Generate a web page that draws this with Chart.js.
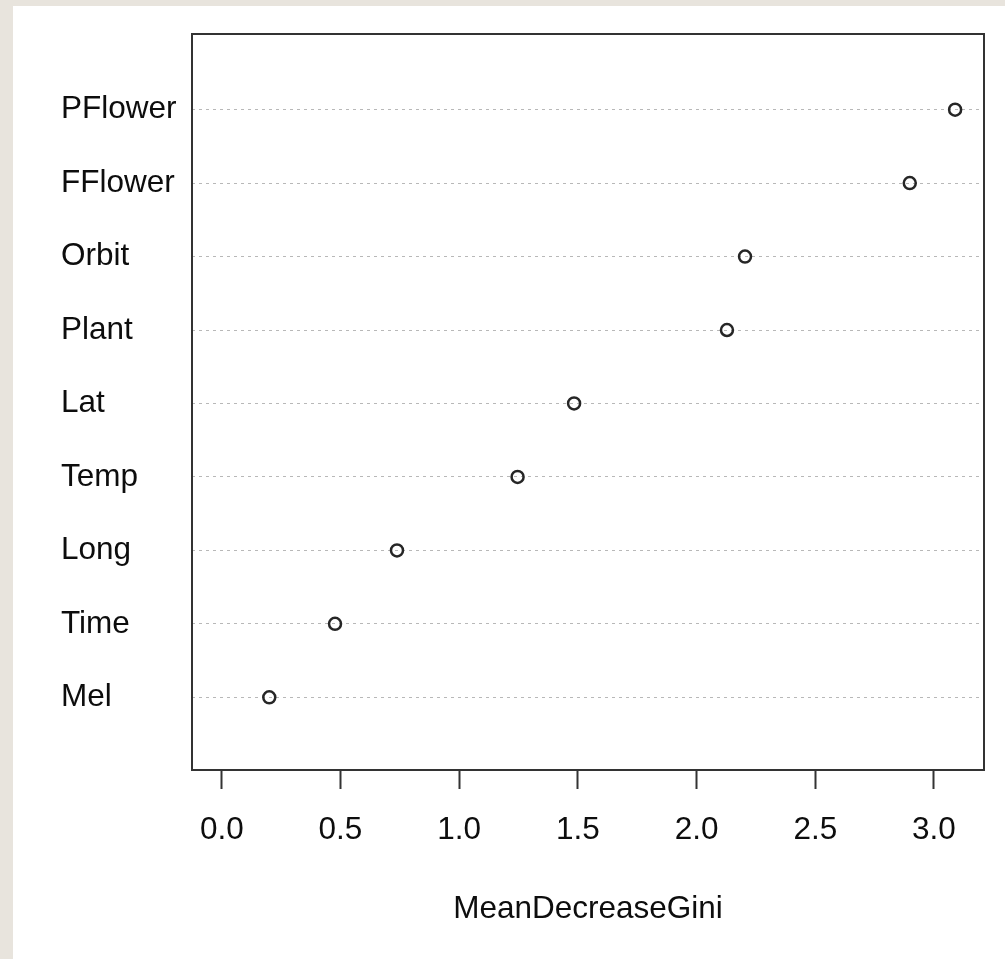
<!DOCTYPE html>
<html>
<head>
<meta charset="utf-8">
<script src="https://cdn.jsdelivr.net/npm/chart.js@4/dist/chart.umd.min.js"></script>
<style>
  html, body { margin: 0; padding: 0; background: #e8e4dd; width: 1005px; height: 959px; overflow: hidden; }
  #panel { position: absolute; left: 13px; top: 6px; right: 0; bottom: 0; background: #ffffff; }
  #wrap { position: absolute; left: 0; top: 0; width: 1005px; height: 959px; }
</style>
</head>
<body>
<div id="panel"></div>
<div id="wrap"><canvas id="c" width="1005" height="959"></canvas></div>
<script>
// Variables in dotchart order (bottom to top)
const categories = ['Mel', 'Time', 'Long', 'Temp', 'Lat', 'Plant', 'Orbit', 'FFlower', 'PFlower'];
const meanDecreaseGini = [0.200, 0.477, 0.738, 1.246, 1.484, 2.128, 2.204, 2.898, 3.089];
const xTickValues = [0, 0.5, 1, 1.5, 2, 2.5, 3];
const xTickLabels = ['0.0', '0.5', '1.0', '1.5', '2.0', '2.5', '3.0'];
const xTitle = 'MeanDecreaseGini';

const FONT = "'Liberation Sans', Arial, sans-serif";
const TEXT = '#0d0d0d';
const points = meanDecreaseGini.map((v, i) => ({ x: v, y: i + 1 }));

const boxPlugin = {
  id: 'box',
  afterDraw(chart) {
    const { ctx, chartArea: a } = chart;
    ctx.save();
    ctx.strokeStyle = '#333333';
    ctx.lineWidth = 2;
    ctx.strokeRect(a.left, a.top, a.right - a.left, a.bottom - a.top);
    ctx.restore();
  }
};

new Chart(document.getElementById('c'), {
  type: 'scatter',
  data: {
    datasets: [{
      data: points,
      pointStyle: 'circle',
      pointRadius: 6,
      pointHoverRadius: 6,
      pointBorderWidth: 2.5,
      pointBorderColor: '#262626',
      pointBackgroundColor: 'rgba(255,255,255,0)'
    }]
  },
  plugins: [boxPlugin],
  options: {
    responsive: false,
    animation: false,
    events: [],
    layout: { padding: { left: 61, top: 34, right: 21, bottom: 0 } },
    plugins: { legend: { display: false }, tooltip: { enabled: false } },
    scales: {
      x: {
        type: 'linear',
        min: -0.1255,
        max: 3.2107,
        afterBuildTicks(scale) { scale.ticks = xTickValues.map(v => ({ value: v })); },
        afterFit(scale) { scale.height = 959 - 770; },
        border: { display: false },
        grid: {
          drawOnChartArea: false,
          drawTicks: true,
          tickLength: 19,
          tickColor: '#333333',
          tickWidth: 2
        },
        ticks: {
          padding: 22,
          maxRotation: 0,
          color: TEXT,
          font: { family: FONT, size: 31.5 },
          callback(value) {
            const i = xTickValues.indexOf(value);
            return i >= 0 ? xTickLabels[i] : '';
          }
        },
        title: {
          display: true,
          text: xTitle,
          color: TEXT,
          font: { family: FONT, size: 31.5 },
          padding: { top: 0, bottom: 31 }
        }
      },
      y: {
        type: 'linear',
        min: 0.01,
        max: 10.03,
        afterBuildTicks(scale) {
          scale.ticks = categories.map((c, i) => ({ value: i + 1 }));
        },
        afterFit(scale) { scale.width = 192 - 61; },
        border: { display: false, dash: [3, 4] },
        grid: {
          drawTicks: false,
          color: '#b8b8b8',
          lineWidth: 1
        },
        ticks: {
          crossAlign: 'far',
          padding: 0,
          color: TEXT,
          font: { family: FONT, size: 31.5 },
          callback(value) { return categories[value - 1] || ''; }
        }
      }
    }
  }
});
</script>
</body>
</html>
